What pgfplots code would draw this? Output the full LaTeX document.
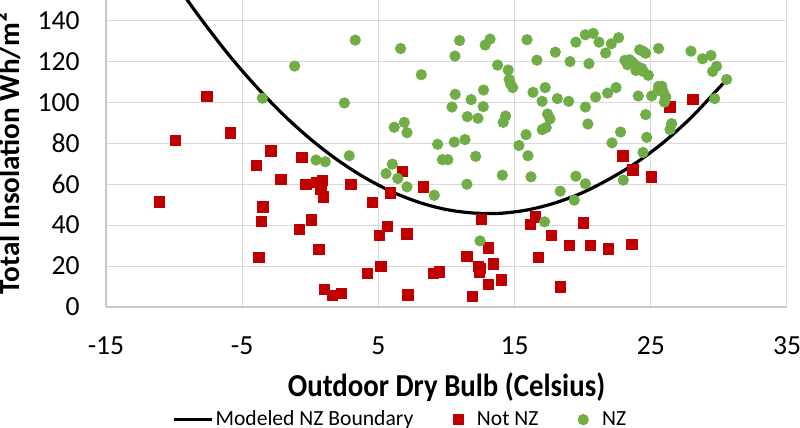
\documentclass[border=0pt]{standalone}
\usepackage{pgfplots}
\pgfplotsset{compat=1.18}
\usepackage{fontspec}
\setmainfont{Carlito}
\newfontfamily\xtitlefont{Carlito}[FakeStretch=0.9]
\definecolor{nzred}{HTML}{C00000}
\definecolor{nzgreen}{HTML}{70AD47}
\definecolor{gridgray}{HTML}{D9D9D9}
\definecolor{axisgray}{HTML}{C8C8C8}
\pgfplotsset{
  markimg/.style={legend image code/.code={\path (0pt,0pt) (16pt,0pt); \draw[##1] plot coordinates {(8pt,0pt)};}},
  lineimg/.style={legend image code/.code={\draw[##1] (0pt,0pt) -- (19pt,0pt);}},
}
\begin{document}
\begin{tikzpicture}
\begin{axis}[
  name=ax, at={(0,0)}, anchor=south west,
  scale only axis, width=340.5pt, height=153.5pt,
  xmin=-15, xmax=35, ymin=0, ymax=150,
  xtick={-15,-5,5,15,25,35}, ytick={0,20,40,60,80,100,120,140},
  grid=major, major grid style={draw=gridgray, line width=0.5pt},
  axis x line*=bottom, axis y line*=left,
  axis line style={draw=axisgray, line width=0.6pt},
  major tick length=0pt,
  /pgf/number format/assume math mode=true,
  tick label style={font=\fontsize{13.8}{16}\selectfont, text=black},
  yticklabel style={anchor=east, inner sep=0pt, xshift=-13pt},
  xticklabel style={anchor=north, inner sep=0pt, yshift=-14.5pt},
  xlabel={Outdoor Dry Bulb (Celsius)},
  ylabel={Total Insolation Wh/m²},
  xlabel style={at={(axis description cs:0.5,-0.29)}, anchor=base, inner sep=0pt, font=\xtitlefont\fontsize{16}{19}\selectfont\bfseries},
  ylabel style={at={(axis description cs:-0.1263,0.5)}, anchor=base, inner sep=0pt, font=\fontsize{14.6}{17}\selectfont\bfseries},
  legend columns=-1,
  legend cell align=left,
  legend style={at={(axis description cs:0.0969,-0.367)}, anchor=west, draw=none, fill=none,
    inner sep=0pt, outer sep=0pt, font=\fontsize{10.8}{13}\selectfont,
    nodes={inner sep=0pt},
    /tikz/every odd column/.append style={column sep=1.2pt},
    /tikz/every even column/.append style={column sep=14.2pt}},
]
\addplot[black, line width=1.6pt, smooth, no markers, lineimg]
coordinates {
(-9.2,151.6) (-9,149.7) (-8,140.5) (-6,123.3) (-4,107.9) (-2,94.1) (0,82.1)
(2,71.8) (4,63.2) (6,56.3) (8,51.1) (10,47.6) (12,45.9) (14,45.8) (16,47.5)
(18,50.9) (20,55.9) (22,62.7) (24,70.8) (26,80.8) (28,92.8) (30,107) (30.6,111.2)
};
\addlegendentry{Modeled NZ Boundary}
\addplot[only marks, mark=square*, mark size=2.6pt, draw=nzred, fill=nzred, markimg]
coordinates {
(-11.1,51.4) (-9.9,81.5) (-7.6,102.8) (-5.85,85.0) (-3.96,69.3) (-2.89,76.2)
(-2.15,62.4) (-0.63,73.1) (-0.32,59.8) (0.47,60.8) (0.91,61.9) (0.79,57.4)
(0.95,53.8) (-3.47,48.9) (-3.57,41.8) (-0.8,38.0) (0.1,42.6) (0.64,28.0)
(-3.77,24.1) (1.05,8.6) (1.64,5.6) (2.3,6.7) (2.99,59.8) (6.78,66.3)
(5.9,55.8) (4.58,51.1) (8.3,58.7) (5.65,39.4) (5.07,35.1) (7.1,35.8)
(5.19,19.7) (4.18,16.4) (7.17,5.9) (9.03,16.4) (9.47,17.2) (12.58,42.9)
(13.07,28.8) (11.5,24.7) (12.33,19.7) (12.5,18.9) (12.4,17.2) (13.46,21.0)
(13.07,11.1) (14.05,13.2) (11.89,5.2) (16.54,44.1) (16.15,40.3) (17.72,35.1)
(19.01,30.1) (16.74,24.2) (18.38,9.9) (20.04,41.0) (20.56,30.2) (21.88,28.3)
(23.62,30.7) (22.96,73.8) (23.7,67.0) (25.06,63.6) (26.4,97.7) (28.1,101.3)
};
\addlegendentry{Not NZ}
\addplot[only marks, mark=*, mark size=2.6pt, draw=nzgreen, fill=nzgreen, markimg]
coordinates {
(-3.52,102.0) (-1.15,117.7) (0.42,71.8) (1.1,71.0) (2.5,99.7) (2.86,73.9)
(3.3,130.4) (5.56,65.2) (6.02,69.8) (6.42,62.8) (6.63,126.3) (6.16,87.8)
(6.9,90.2) (7.1,85.2) (7.1,58.7) (8.15,113.5) (9.1,54.6) (9.35,79.5)
(9.7,72.0) (10.1,72.0) (10.4,97.7) (10.57,80.6) (10.62,122.6) (10.64,103.9)
(10.96,130.2) (11.36,81.8) (11.5,60.0) (11.53,93.0) (11.81,101.3) (12.14,73.6)
(12.31,92.2) (12.46,32.3) (12.7,97.9) (12.72,106.0) (12.84,128.0) (13.2,130.9)
(13.75,118.2) (14.1,64.4) (14.16,90.2) (14.34,93.3) (14.53,115.8) (14.6,111.2)
(14.7,109.1) (14.86,107.2) (15.32,78.9) (15.84,84.2) (15.91,130.6) (15.98,73.9)
(16.2,63.6) (16.35,104.9) (16.64,120.6) (17.02,100.5) (17.03,86.7) (17.2,41.6)
(17.25,107.2) (17.32,87.7) (17.42,94.3) (17.6,91.9) (17.99,124.5) (18.14,101.8)
(18.35,56.6) (18.97,100.5) (19.07,119.9) (19.38,52.2) (19.5,63.9) (19.5,129.4)
(20.19,133.0) (20.2,97.7) (20.2,60.2) (20.38,89.4) (20.46,118.9) (20.77,133.7)
(20.95,102.6) (21.2,129.4) (21.68,124.1) (21.83,104.5) (22.1,128.6) (22.15,80.2)
(22.45,107.2) (22.64,131.6) (22.78,85.5) (22.98,62.0) (23.1,120.5) (23.29,118.4)
(23.44,120.8) (23.58,120.0) (23.75,118.9) (23.91,115.6) (23.96,117.7) (24.08,103.1)
(24.18,125.7) (24.33,116.6) (24.43,75.5) (24.45,124.9) (24.45,115.1) (24.62,124.0)
(24.62,94.0) (24.7,82.9) (24.82,113.2) (25.06,103.1) (25.55,105.9) (25.57,107.8)
(25.57,126.3) (25.82,107.8) (25.92,105.0) (26.0,100.1) (26.1,102.6) (26.41,86.7)
(26.53,89.6) (27.95,125.0) (28.8,121.3) (29.42,122.9) (29.54,115.1) (29.69,101.8)
(29.83,117.6) (30.57,111.2)
};
\addlegendentry{NZ}
\end{axis}
\pgfresetboundingbox
\path (ax.south west) ++(-53pt,-60.5pt) rectangle ++(400pt,214pt);
\end{tikzpicture}
\end{document}
